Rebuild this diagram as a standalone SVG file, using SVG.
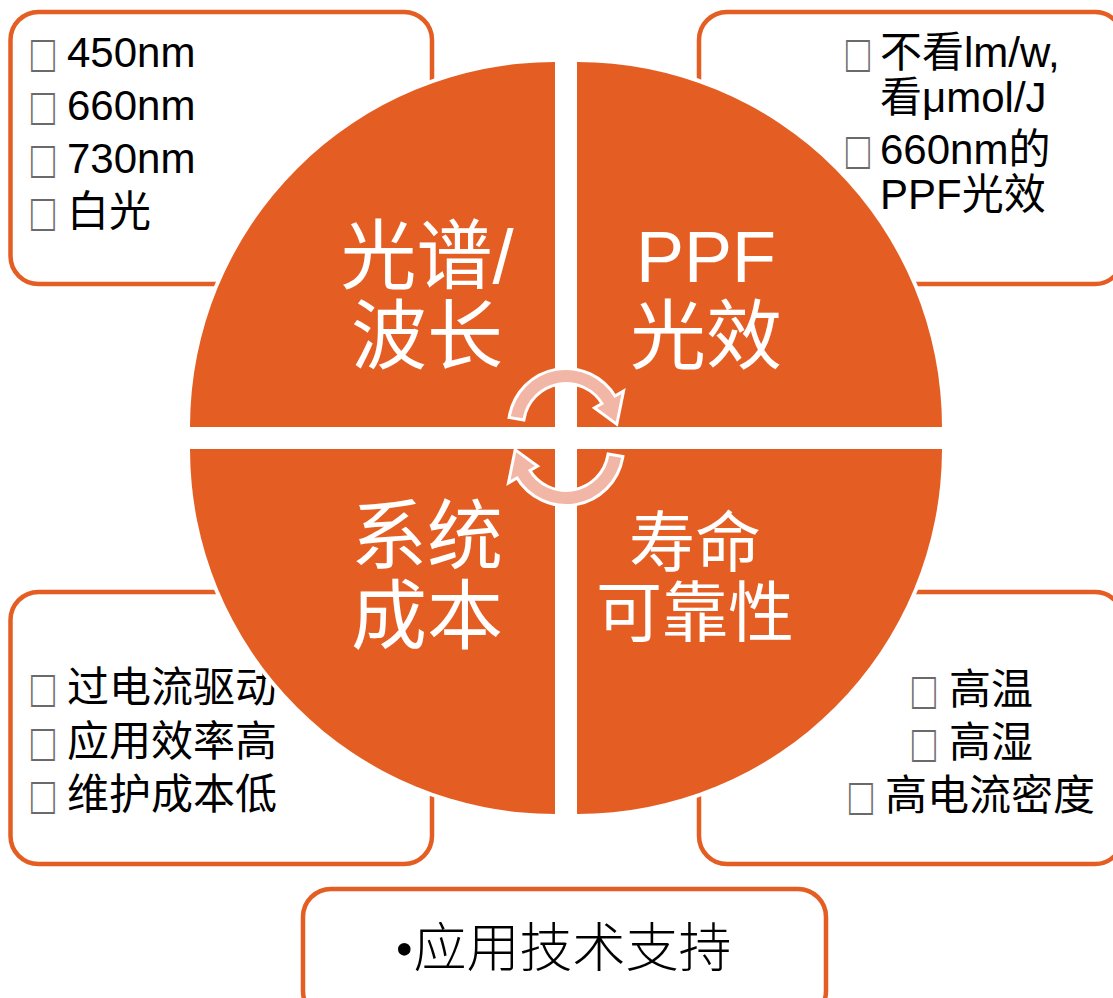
<svg xmlns="http://www.w3.org/2000/svg" width="1113" height="998" viewBox="0 0 1113 998">
<style>
.box{fill:#fff;stroke:#E45E23;stroke-width:4.5}
.q{fill:#E45E23;stroke:#fff;stroke-width:8;paint-order:stroke}
.t{font-family:"Liberation Sans","Noto Sans CJK SC",sans-serif;font-size:42px;fill:#000}
.tb{font-family:"Liberation Sans","DejaVu Sans",sans-serif;font-size:40px;fill:#6a6a6a}
.lbl{font-family:"Liberation Sans","Noto Sans CJK SC",sans-serif;font-size:76px;fill:#fff;text-anchor:middle}
.arr{fill:#F2B6A6;stroke:#fff;stroke-width:6;paint-order:stroke;stroke-linejoin:miter}
</style>
<defs>
<text id="tofu" class="tb" transform="scale(1,1.35)">□</text>
<path id="carrow" d="M510.85,416.28 A56,56 0 0 1 614.5,398 L621.43,394 L615.81,421.64 L597.18,408 L604.1,404 A44,44 0 0 0 522.67,418.36 Z"/>
</defs>
<rect width="1113" height="998" fill="#fff"/>
<g id="box-tl">
<rect class="box" x="10.5" y="12" width="421.5" height="272" rx="28"/>
<use href="#tofu" transform="translate(31,72)"/><text class="t" x="67" y="67">450nm</text>
<use href="#tofu" transform="translate(31,125)"/><text class="t" x="67" y="120">660nm</text>
<use href="#tofu" transform="translate(31,178)"/><text class="t" x="67" y="173">730nm</text>
<use href="#tofu" transform="translate(31,231)"/><text class="t" x="67" y="226">白光</text>
</g>
<g id="box-tr">
<rect class="box" x="699" y="12" width="424" height="272" rx="28"/>
<use href="#tofu" transform="translate(846,72)"/><text class="t" x="880" y="67">不看lm/w,</text>
<text class="t" x="880" y="112">看μmol/J</text>
<use href="#tofu" transform="translate(846,169)"/><text class="t" x="880" y="164">660nm的</text>
<text class="t" x="880" y="209">PPF光效</text>
</g>
<g id="box-bl">
<rect class="box" x="10.5" y="592" width="421.5" height="272" rx="28"/>
<use href="#tofu" transform="translate(31,707)"/><text class="t" x="67" y="702">过电流驱动</text>
<use href="#tofu" transform="translate(31,761)"/><text class="t" x="67" y="756">应用效率高</text>
<use href="#tofu" transform="translate(31,814)"/><text class="t" x="67" y="809">维护成本低</text>
</g>
<g id="box-br">
<rect class="box" x="699" y="592" width="424" height="272" rx="28"/>
<use href="#tofu" transform="translate(912,709)"/><text class="t" x="949" y="704">高温</text>
<use href="#tofu" transform="translate(912,762)"/><text class="t" x="949" y="757">高湿</text>
<use href="#tofu" transform="translate(849,815)"/><text class="t" x="885" y="810">高电流密度</text>
</g>
<g id="box-bottom">
<rect class="box" x="303" y="889" width="523" height="130" rx="28"/>
<text x="395" y="967" style="font-family:'Liberation Serif','Noto Sans CJK SC',serif;font-size:53px;font-weight:300;fill:#000">•应用技术支持</text>
</g>
<g id="quad-tl">
<path class="q" d="M555,427 L190,427 A365,365 0 0 1 555,62 Z"/>
<text class="lbl" x="427" y="283">光谱/</text>
<text class="lbl" x="427" y="363">波长</text>
</g>
<g id="quad-tr">
<path class="q" d="M577,427 L577,62 A365,365 0 0 1 942,427 Z"/>
<text class="lbl" x="706" y="282" style="font-size:72px">PPF</text>
<text class="lbl" x="706" y="363">光效</text>
</g>
<g id="quad-bl">
<path class="q" d="M555,449 L555,814 A365,365 0 0 1 190,449 Z"/>
<text class="lbl" x="427" y="563">系统</text>
<text class="lbl" x="427" y="643">成本</text>
</g>
<g id="quad-br">
<path class="q" d="M577,449 L942,449 A365,365 0 0 1 577,814 Z"/>
<text class="lbl" x="695" y="566" style="font-size:66px">寿命</text>
<text class="lbl" x="695" y="636" style="font-size:66px">可靠性</text>
</g>
<g id="connectors">
<use id="arrow-top" href="#carrow" class="arr"/>
<use id="arrow-bottom" href="#carrow" class="arr" transform="rotate(180 566 437)"/>
</g>
</svg>
